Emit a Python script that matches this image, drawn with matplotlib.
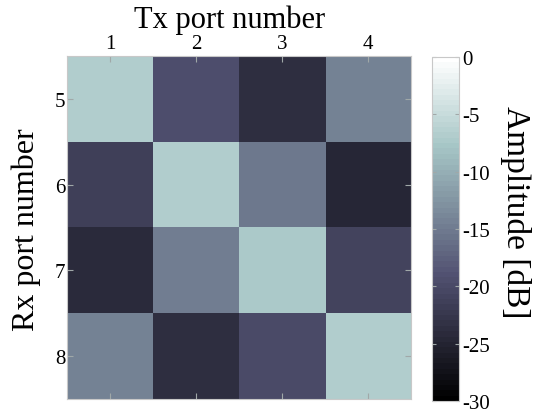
import numpy as np
import matplotlib
matplotlib.use("Agg")
import matplotlib.pyplot as plt

plt.rcParams['font.family'] = ['Liberation Serif', 'DejaVu Serif']
plt.rcParams['axes.unicode_minus'] = False

tx_ports = ["1", "2", "3", "4"]
rx_ports = ["5", "6", "7", "8"]
# amplitude in dB, rows = Rx 5..8, columns = Tx 1..4
row5 = [-6.6, -19.4, -23.8, -14.5]
row6 = [-21.1, -6.6, -15.4, -24.6]
row7 = [-24.3, -14.8, -7.1, -21.0]
row8 = [-14.5, -23.5, -20.0, -6.6]
amp = np.array([row5, row6, row7, row8])
cbar_ticks = [0, -5, -10, -15, -20, -25, -30]

W, H = 543, 414
fig = plt.figure(figsize=(W/100, H/100), dpi=100)
ax = fig.add_axes([67/W, 1-400/H, 344/W, 343/H])
cmap = plt.get_cmap('bone', 64)
im = ax.imshow(amp, cmap=cmap, vmin=-30, vmax=0, aspect='auto',
               extent=[0.5, 4.5, 4.5, 0.5], interpolation='nearest')
ax.set_xticks(range(1, 5))
ax.set_xticklabels(tx_ports)
ax.set_yticks(range(1, 5))
ax.set_yticklabels(rx_ports)
ax.xaxis.set_ticks_position('both')
ax.yaxis.set_ticks_position('both')
ax.tick_params(axis='x', which='both', labeltop=True, labelbottom=False,
               direction='in', length=4, color='#a0a8a8', labelsize=15, pad=2)
ax.tick_params(axis='y', which='both', direction='in', length=4,
               color='#a0a8a8', labelsize=15, pad=1)
for s in ax.spines.values():
    s.set_color('#c8c8c8')
    s.set_linewidth(0.8)

fig.text(230/W, 1-28/H, 'Tx port number', fontsize=22, ha='center', va='baseline')
fig.text(26/W, 1-230/H, 'Rx port number', fontsize=23, rotation=90,
         ha='center', va='center')

cax = fig.add_axes([432/W, 1-402/H, 27/W, 344/H])
cb = fig.colorbar(im, cax=cax, ticks=cbar_ticks)
cb.outline.set_edgecolor('#c8c8c8')
cb.outline.set_linewidth(0.8)
cax.yaxis.set_ticks_position('both')
cax.tick_params(direction='in', length=3, color='#a0a8a8', labelsize=15, pad=2)
cax.tick_params(labelleft=False, labelright=True)
cax.set_yticklabels([str(t) for t in cbar_ticks])
fig.text(515/W, 1-212/H, 'Amplitude [dB]', fontsize=24, rotation=270,
         ha='center', va='center')

fig.savefig('out.png', dpi=100)
